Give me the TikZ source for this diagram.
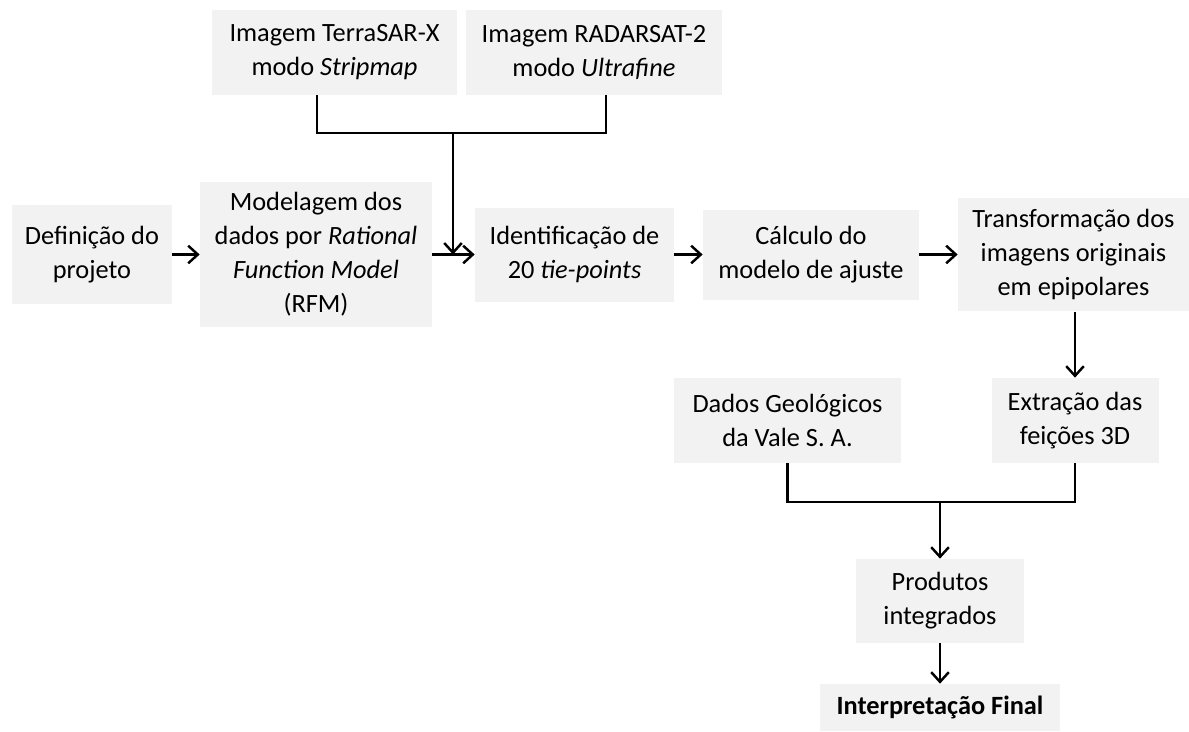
\documentclass[tikz,border=0pt]{standalone}
\usepackage{fontspec}
\setmainfont{Carlito}
\usetikzlibrary{arrows.meta}
\usetikzlibrary{calc}

\definecolor{boxgray}{HTML}{F2F2F2}
\tikzset{
  etapa/.style={fill=boxgray, inner sep=0pt, align=center, font=\fontsize{15}{19.3}\selectfont},
  seta/.style={-{Straight Barb[length=5.5pt,width=10pt]}, line width=1.4pt},
  linha/.style={line width=1.4pt},
}

\begin{document}
\begin{tikzpicture}[x=0.02cm, y=-0.02cm]
                \useasboundingbox (0,0) rectangle (1189,731);
                \node[etapa, minimum width=4.9cm, minimum height=1.7cm] (terra) at (334.5,52.5) {Imagem TerraSAR-X\\modo \textit{Stripmap}};
                \node[etapa, minimum width=5.12cm, minimum height=1.7cm] (radar) at (594,52.5) {Imagem RADARSAT-2\\modo \textit{Ultrafine}};
                \node[etapa, minimum width=3.2cm, minimum height=1.98cm] (defin) at (92,254.5) {Definição do\\projeto};
                \node[etapa, minimum width=4.64cm, minimum height=2.92cm] (model) at (316,254.5) {Modelagem dos\\dados por \textit{Rational}\\\textit{Function Model}\\(RFM)};
                \node[etapa, minimum width=3.98cm, minimum height=1.88cm] (ident) at (574.5,254.5) {Identificação de\\20 \textit{tie-points}};
                \node[etapa, minimum width=4.32cm, minimum height=1.8cm] (calc) at (811,254.5) {Cálculo do\\modelo de ajuste};
                \node[etapa, minimum width=4.62cm, minimum height=2.28cm] (transf) at (1073.5,254.5) {Transformação dos\\imagens originais\\em epipolares};
                \node[etapa, minimum width=4.54cm, minimum height=1.7cm] (dados) at (787.5,420.5) {Dados Geológicos\\da Vale S. A.};
                \node[etapa, minimum width=3.34cm, minimum height=1.7cm] (extr) at (1075,420.5) {Extração das\\feições 3D};
                \node[etapa, minimum width=3.36cm, minimum height=1.68cm] (prod) at (940,601) {Produtos\\integrados};
                \node[etapa, minimum width=4.8cm, minimum height=0.94cm] (interp) at (940,707.5) {\textbf{Interpretação Final}};
                % junctions
                \coordinate (terrabase) at (317,95);
                \coordinate (radarbase) at (606,95);
                \coordinate (tjoin) at (453,133);
                \coordinate (bjoin) at (940,502);
                \draw[linha] (terrabase) |- (tjoin) -| (radarbase);
                \draw[seta] (tjoin) -- (tjoin |- model.east);
                \draw[seta] (defin) -- (model);
                \draw[seta] (model) -- (ident);
                \draw[seta] (ident) -- (calc);
                \draw[seta] (calc) -- (transf);
                \draw[seta] (extr.north |- transf.south) -- (extr.north);
                \draw[linha] (dados.south) |- (bjoin) -| (extr.south);
                \draw[seta] (bjoin) -- (prod.north);
                \draw[seta] (prod) -- (interp);
            \end{tikzpicture}
\end{document}
